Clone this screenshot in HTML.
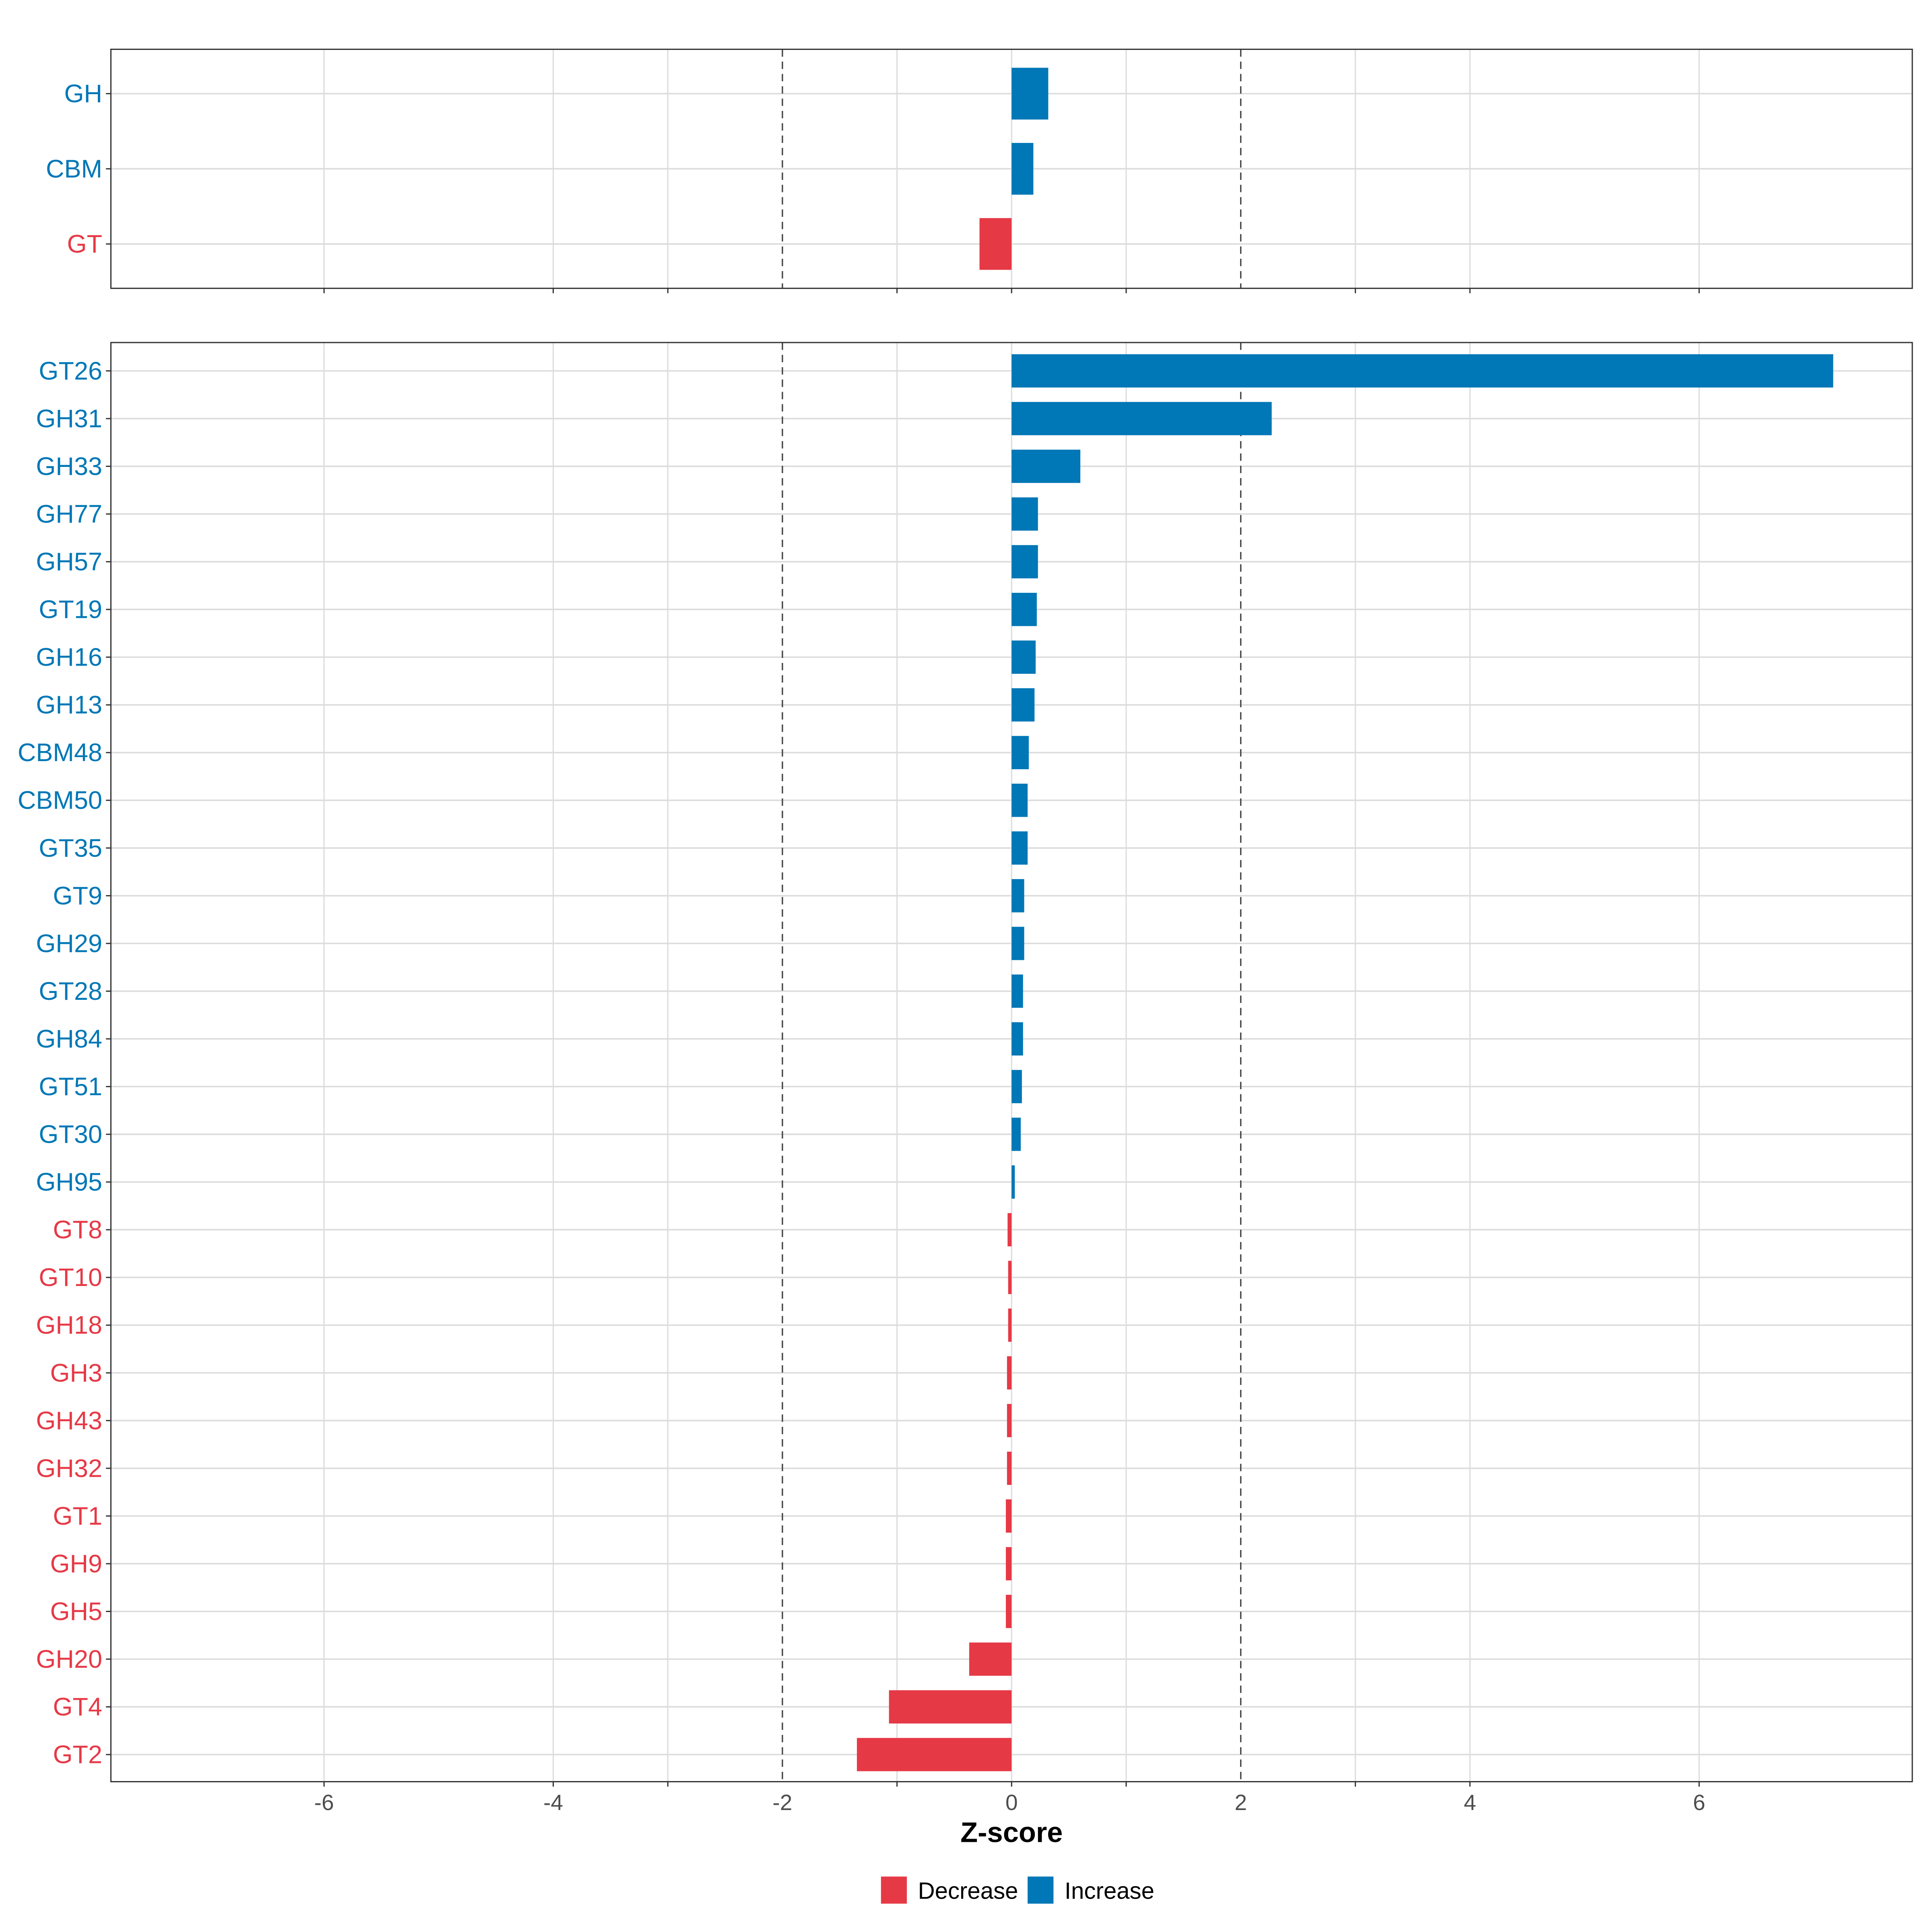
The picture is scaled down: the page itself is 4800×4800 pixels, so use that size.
<!DOCTYPE html>
<html><head><meta charset="utf-8"><style>
html,body{margin:0;padding:0;background:#fff;width:4800px;height:4800px;overflow:hidden}
svg{display:block}
text{font-family:"Liberation Sans",Arial,sans-serif}
</style></head><body>
<svg id="chart" width="4800" height="4800" viewBox="0 0 1568 1568" xmlns="http://www.w3.org/2000/svg"></svg>
<script>
const topCats = ["GH","CBM","GT"];
const topVals = [0.32,0.19,-0.28];
const botCats = ["GT26","GH31","GH33","GH77","GH57","GT19","GH16","GH13","CBM48","CBM50","GT35","GT9","GH29","GT28","GH84","GT51","GT30","GH95","GT8","GT10","GH18","GH3","GH43","GH32","GT1","GH9","GH5","GH20","GT4","GT2"];
const botVals = [7.17,2.27,0.60,0.23,0.23,0.22,0.21,0.20,0.15,0.14,0.14,0.11,0.11,0.10,0.10,0.09,0.08,0.028,-0.035,-0.03,-0.03,-0.04,-0.04,-0.04,-0.05,-0.05,-0.05,-0.37,-1.07,-1.35];
const tickVals = [-6,-4,-2,0,2,4,6];
const gridVals = [-6,-4,-3,-1,0,1,3,4,6];
const thresholds = [-2,2];

const BLUE="#0077b6", RED="#e63946";
const svg=document.getElementById('chart');
const NS="http://www.w3.org/2000/svg";
function mk(tag,attrs,parent){const e=document.createElementNS(NS,tag);for(const k in attrs)e.setAttribute(k,attrs[k]);(parent||svg).appendChild(e);return e;}
const x = v => 821 + v*93;
const L=90,R=1552;

function panel(name,top,bottom,cats,vals,y0,step,bh){
  const g=mk('g',{});
  
  
  const y = i => y0 + i*step;
  gridVals.forEach(v=>{
    const l=mk('line',{x1:x(v),x2:x(v),y1:top,y2:bottom,stroke:"#dcdcdc","stroke-width":1},g);
    
    
  });
  cats.forEach((c,i)=>{
    const l=mk('line',{x1:L,x2:R,y1:y(i),y2:y(i),stroke:"#dcdcdc","stroke-width":1.2},g);
    
    
  });
  thresholds.forEach(v=>{
    const l=mk('line',{x1:x(v),x2:x(v),y1:top,y2:bottom,stroke:"#444","stroke-width":1.1,"stroke-dasharray":"6,4"},g);
    
    
  });
  cats.forEach((c,i)=>{
    const v=vals[i];
    const r=mk('rect',{x:Math.min(x(0),x(v)),y:y(i)-bh/2,width:Math.abs(x(v)-x(0)),height:bh,fill:v>=0?BLUE:RED},g);
    
    
    const t=mk('text',{x:83,y:y(i)+7,"text-anchor":"end","font-size":20.6,fill:v>=0?BLUE:RED},g);
    t.textContent=c;
    
    
    const tk=mk('line',{x1:86,x2:90,y1:y(i),y2:y(i),stroke:"#333","stroke-width":1},g);
    
    
  });
  const b=mk('rect',{x:L,y:top,width:R-L,height:bottom-top,fill:"none",stroke:"#333","stroke-width":1},g);
  
  
  gridVals.forEach(v=>{
    const l=mk('line',{x1:x(v),x2:x(v),y1:bottom,y2:bottom+4,stroke:"#333","stroke-width":1},g);
    
    
  });
}
panel('top-panel',40,234,topCats,topVals,76,61,42);
panel('bottom-panel',278,1446,botCats,botVals,301,(1424-301)/29,27);

tickVals.forEach(v=>{
  const t=mk('text',{x:x(v),y:1469,"text-anchor":"middle","font-size":18,fill:"#4d4d4d"});
  t.textContent=String(v);
  
  
});
const xt=mk('text',{x:821,y:1495,"text-anchor":"middle","font-size":23,"font-weight":"bold",fill:"#000"});
xt.textContent="Z-score";



const lg=mk('g',{});


[[715,RED,"Decrease",745],[834,BLUE,"Increase",864]].forEach(([kx,col,lab,tx])=>{
  const r=mk('rect',{x:kx,y:1523,width:21,height:22,fill:col},lg);
  
  
  const t=mk('text',{x:tx,y:1541,"font-size":19,fill:"#000"},lg);
  t.textContent=lab;
  
  
});
</script>
</body></html>
